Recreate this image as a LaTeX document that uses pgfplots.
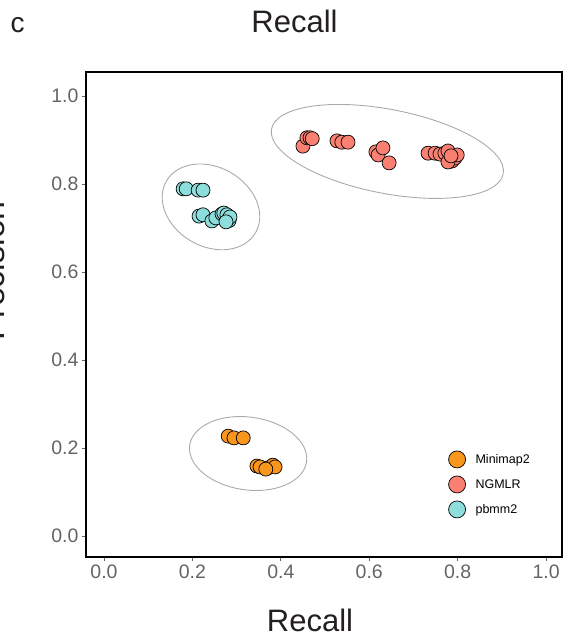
\documentclass[border=0pt]{standalone}
\usepackage{fontspec}
\setmainfont{Liberation Sans}
\usepackage{pgfplots}
\pgfplotsset{compat=1.18}
\definecolor{orng}{RGB}{248,150,30}
\definecolor{salmon}{RGB}{250,128,114}
\definecolor{cyanc}{RGB}{142,221,221}
\definecolor{tickgray}{RGB}{100,100,100}
\definecolor{ellgray}{RGB}{170,170,170}
\definecolor{txt}{RGB}{35,31,32}
\begin{document}
\begin{tikzpicture}
\useasboundingbox (0,0) rectangle (570pt,-637pt);
\begin{axis}[
  at={(86pt,-557pt)}, anchor=south west,
  scale only axis, width=476pt, height=485pt,
  xmin=-0.0407, xmax=1.036, ymin=-0.0477, ymax=1.0545,
  xtick={0,0.2,0.4,0.6,0.8,1}, xticklabels={0.0,0.2,0.4,0.6,0.8,1.0},
  ytick={0,0.2,0.4,0.6,0.8,1}, yticklabels={0.0,0.2,0.4,0.6,0.8,1.0},
  xtick pos=left, ytick pos=left, tick align=outside,
  major tick length=4pt,
  tick style={color=tickgray, line width=0.8pt},
  axis line style={line width=1.1pt, black},
  ticklabel style={font=\fontsize{19.5}{21}\selectfont, text=tickgray},
  legend entries={\hspace*{8pt}Minimap2,\hspace*{8pt}NGMLR,\hspace*{8pt}pbmm2},
  legend style={draw=none, fill=none, font=\fontsize{12.5}{14}\selectfont,
    at={(0.755,0.076)}, anchor=south west, row sep=8pt},
  legend cell align=left,
  legend image post style={mark size=8.5pt},
]
\draw[ellgray, line width=0.9pt, rotate around={-11:(axis cs:0.641,0.874)}] (axis cs:0.641,0.874) ellipse [x radius=118pt, y radius=42pt];
\draw[ellgray, line width=0.9pt, rotate around={-30:(axis cs:0.242,0.748)}] (axis cs:0.242,0.748) ellipse [x radius=51.5pt, y radius=39.6pt];
\draw[ellgray, line width=0.9pt, rotate around={-8:(axis cs:0.326,0.1875)}] (axis cs:0.326,0.1875) ellipse [x radius=59pt, y radius=36.4pt];

\addplot[only marks, mark=*, mark size=7pt, mark options={fill=orng, draw=black, line width=0.7pt}] coordinates {
(0.281,0.227) (0.294,0.223) (0.315,0.223)
(0.346,0.159) (0.353,0.157) (0.371,0.155) (0.382,0.161) (0.387,0.157) (0.366,0.152)
};
\addplot[only marks, mark=*, mark size=7pt, mark options={fill=salmon, draw=black, line width=0.7pt}] coordinates {
(0.450,0.886) (0.459,0.905) (0.466,0.905) (0.471,0.903)
(0.527,0.898) (0.538,0.895) (0.552,0.895)
(0.615,0.873) (0.620,0.866) (0.631,0.882) (0.645,0.848)
(0.733,0.870) (0.749,0.870) (0.760,0.868) (0.771,0.870) (0.778,0.875)
(0.787,0.852) (0.794,0.859) (0.799,0.866) (0.778,0.850) (0.785,0.864)
};
\addplot[only marks, mark=*, mark size=7pt, mark options={fill=cyanc, draw=black, line width=0.7pt}] coordinates {
(0.179,0.789) (0.186,0.789) (0.213,0.786) (0.224,0.786)
(0.215,0.727) (0.224,0.730) (0.244,0.716) (0.253,0.723) (0.267,0.732)
(0.271,0.734) (0.278,0.730) (0.283,0.717) (0.285,0.725) (0.276,0.714)
};
\end{axis}
\node[text=txt, font=\fontsize{31}{34}\selectfont, anchor=center] at (294.5pt,-21pt) {Recall};
\node[text=txt, font=\fontsize{31}{34}\selectfont, anchor=center] at (310pt,-620pt) {Recall};
\node[text=txt, font=\fontsize{28}{30}\selectfont, anchor=base west] at (7pt,-32pt) {c};
\node[text=txt, font=\fontsize{34}{36}\selectfont, rotate=90, anchor=base] at (5pt,-271pt) {Precision};
\end{tikzpicture}
\end{document}
